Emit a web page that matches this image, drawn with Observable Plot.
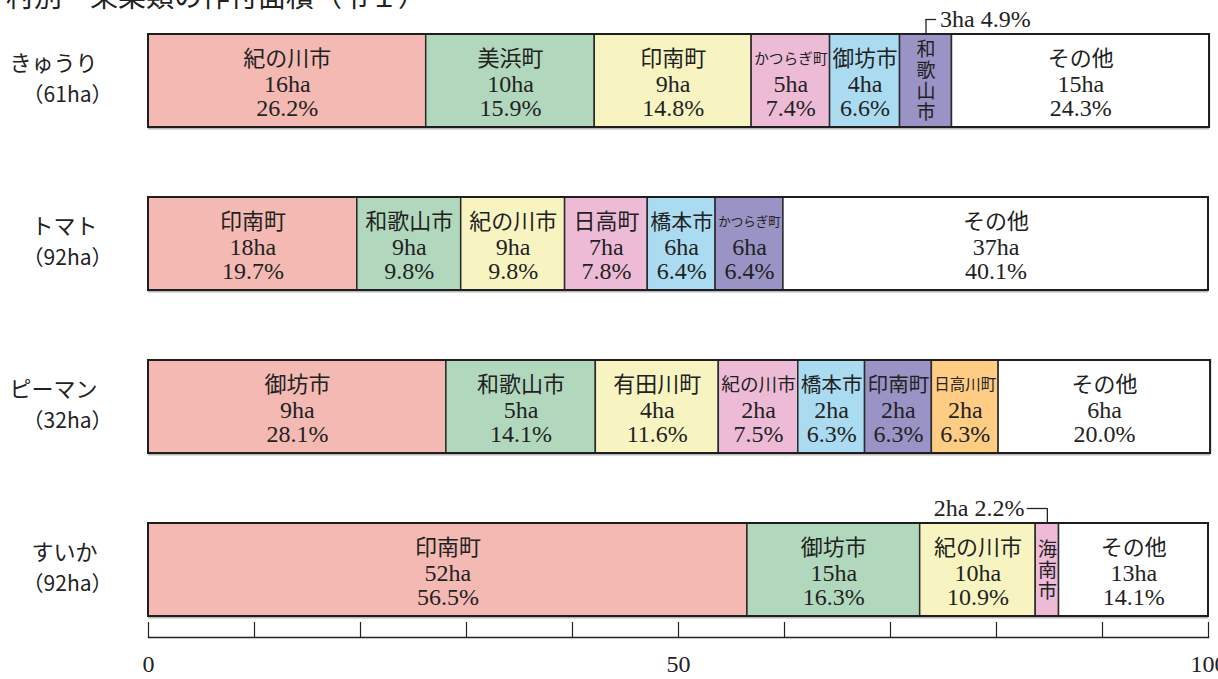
<!DOCTYPE html>
<html><head><meta charset="utf-8">
<script src="https://cdn.jsdelivr.net/npm/d3@7"></script>
<script src="https://cdn.jsdelivr.net/npm/@observablehq/plot@0.6"></script>
<style>
html,body{margin:0;padding:0;background:#fff;overflow:hidden;}
#wrap{position:relative;width:1218px;height:679px;}
#title{position:absolute;left:6px;top:-19px;font-family:"Noto Sans CJK JP";font-size:28px;line-height:1;color:#222;white-space:pre;z-index:2;}
</style></head><body>
<div id="wrap"><div id="chart"></div><div id="title">村別　果菜類の作付面積（令１）</div></div>
<script>
// ---- data ----
const crops = ["きゅうり", "トマト", "ピーマン", "すいか"];
const cropTotals = [61, 92, 32, 92];

const kyuuriMuni = ["紀の川市", "美浜町", "印南町", "かつらぎ町", "御坊市", "和歌山市", "その他"];
const kyuuriHa   = [16, 10, 9, 5, 4, 3, 15];
const kyuuriPct  = [26.2, 15.9, 14.8, 7.4, 6.6, 4.9, 24.3];

const tomatoMuni = ["印南町", "和歌山市", "紀の川市", "日高町", "橋本市", "かつらぎ町", "その他"];
const tomatoHa   = [18, 9, 9, 7, 6, 6, 37];
const tomatoPct  = [19.7, 9.8, 9.8, 7.8, 6.4, 6.4, 40.1];

const pimanMuni = ["御坊市", "和歌山市", "有田川町", "紀の川市", "橋本市", "印南町", "日高川町", "その他"];
const pimanHa   = [9, 5, 4, 2, 2, 2, 2, 6];
const pimanPct  = [28.1, 14.1, 11.6, 7.5, 6.3, 6.3, 6.3, 20.0];

const suikaMuni = ["印南町", "御坊市", "紀の川市", "海南市", "その他"];
const suikaHa   = [52, 15, 10, 2, 13];
const suikaPct  = [56.5, 16.3, 10.9, 2.2, 14.1];

const xTicks = [0, 10, 20, 30, 40, 50, 60, 70, 80, 90, 100];
const xTickLabels = [0, 50, 100];

// ---- build table ----
const palette = ["#f3b9b2", "#b1d8bd", "#f7f4c1", "#eebbd7", "#aadbf1", "#9a93c5", "#fecc82"];
const INK = "#222";
const SERIF = "'Liberation Serif','DejaVu Serif','Noto Sans CJK JP',serif";
const SANS = "'Noto Sans CJK JP',sans-serif";
const W = 1218, ML = 148, MR = 10;
const PX = (W - ML - MR) / 100;

const lists = [
  [kyuuriMuni, kyuuriHa, kyuuriPct],
  [tomatoMuni, tomatoHa, tomatoPct],
  [pimanMuni, pimanHa, pimanPct],
  [suikaMuni, suikaHa, suikaPct]
];
const rows = [];
lists.forEach(([m, h, p], ci) => {
  let acc = 0;
  m.forEach((name, i) => {
    const x1 = acc, x2 = acc + p[i];
    acc = x2;
    const mid = (x1 + x2) / 2;
    rows.push({
      crop: crops[ci], muni: name, ha: h[i], pct: p[i], x1, x2, mid,
      color: name === "その他" ? "#ffffff" : palette[i],
      nameSize: Math.min(22, (p[i] * PX - 5) / name.length),
      right: mid < 80
    });
  });
});
const hRows = rows.filter(d => d.pct >= 5);
const vRows = rows.filter(d => d.pct < 5);
const totals = crops.map((c, i) => ({crop: c, total: cropTotals[i], sum: d3.sum(lists[i][2])}));
const callout = d => `${d.ha}ha ${d.pct.toFixed(1)}%`;

const plot = Plot.plot({
  width: W, height: 679,
  marginLeft: ML, marginRight: MR, marginTop: 0, marginBottom: 42,
  x: {domain: [0, 100]},
  y: {domain: crops, range: [33, 616], paddingInner: 0.43, paddingOuter: 0, axis: null},
  color: {type: "identity"},
  style: {background: "white", color: INK, overflow: "visible"},
  marks: [
    Plot.barX(totals, {x1: 0, x2: "sum", y: "crop", fill: "#b8b8b8", dy: 2.5}),
    Plot.barX(rows, {x1: "x1", x2: "x2", y: "crop", fill: "color", stroke: "#2a2a2a", strokeWidth: 1.5}),
    Plot.barX(totals, {x1: 0, x2: "sum", y: "crop", fill: "none", stroke: "#1e1e1e", strokeWidth: 2}),
    // labels inside bars
    Plot.text(hRows, {x: "mid", y: "crop", text: "muni", fontSize: d => d.nameSize, dy: -22, fontFamily: SERIF, fill: INK}),
    Plot.text(hRows, {x: "mid", y: "crop", text: d => d.ha + "ha", fontSize: 24, dy: 3, fontFamily: SERIF, fill: INK}),
    Plot.text(hRows, {x: "mid", y: "crop", text: d => d.pct.toFixed(1) + "%", fontSize: 24, dy: 27.5, fontFamily: SERIF, fill: INK}),
    // vertical labels for narrow segments
    Plot.text(vRows, {x: "mid", y: "crop", text: d => [...d.muni].join("\n"), fontSize: 19, lineHeight: 1.1, fontFamily: SERIF, fill: INK}),
    // callouts
    Plot.tickX(vRows, {x: "mid", y: "crop", insetTop: -15, insetBottom: 93, stroke: INK, strokeWidth: 1.3}),
    Plot.ruleY(vRows, {y: "crop", x1: "mid", x2: d => d.mid + (d.right ? 1.0 : -1.9), dy: -61.5, stroke: INK, strokeWidth: 1.3}),
    Plot.text(vRows.filter(d => d.right), {x: "mid", y: "crop", text: callout, dx: 14, dy: -62, textAnchor: "start", fontSize: 24, fontFamily: SERIF, fill: INK}),
    Plot.text(vRows.filter(d => !d.right), {x: "mid", y: "crop", text: callout, dx: -23, dy: -62, textAnchor: "end", fontSize: 24, fontFamily: SERIF, fill: INK}),
    // row labels
    Plot.text(totals, {frameAnchor: "left", y: "crop", text: "crop", dx: -51, dy: -17, textAnchor: "end", fontSize: 22, fontFamily: SANS, fill: INK}),
    Plot.text(totals, {frameAnchor: "left", y: "crop", text: d => `（${d.total}ha）`, dx: -36, dy: 14, textAnchor: "end", fontSize: 21, fontFamily: SANS, fill: INK}),
    // axis
    Plot.axisX(xTicks, {tickSize: 15, dy: -15, fill: "none", label: null, stroke: INK, strokeWidth: 1.2}),
    Plot.axisX(xTickLabels, {tickSize: 0, tickPadding: 17, fontSize: 24, fontFamily: SERIF, label: null, tickFormat: d => String(d), fill: INK}),
    Plot.frame({anchor: "bottom", stroke: INK, strokeWidth: 1.5})
  ]
});
document.getElementById("chart").appendChild(plot);
</script>
</body></html>
